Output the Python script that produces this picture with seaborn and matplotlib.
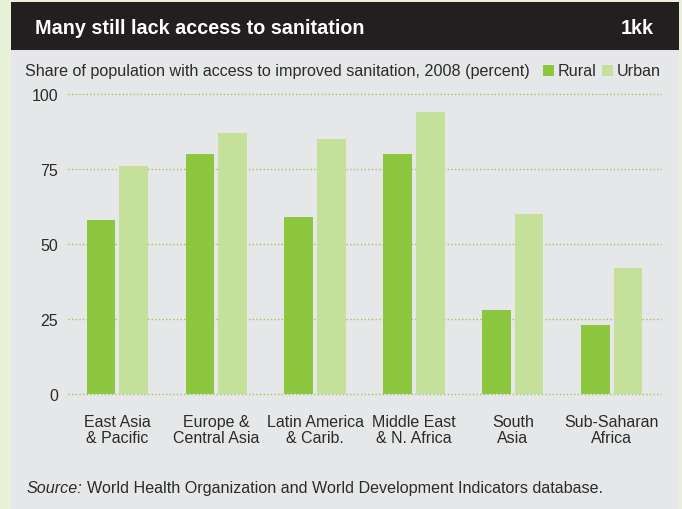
import matplotlib
matplotlib.use("Agg")
import matplotlib.pyplot as plt
from matplotlib.patches import Rectangle
import seaborn as sns
import pandas as pd

regions = ["East Asia\n& Pacific", "Europe &\nCentral Asia", "Latin America\n& Carib.",
           "Middle East\n& N. Africa", "South\nAsia", "Sub-Saharan\nAfrica"]
rural = [58, 80, 59, 80, 28, 23]
urban = [76, 87, 85, 94, 60, 42]
yticks = [0, 25, 50, 75, 100]

RURAL_C = "#8dc63f"
URBAN_C = "#c5e09b"
PANEL_C = "#e6e7e8"
OUTER_C = "#e8f2d9"
DARK_C = "#231f20"
TEXT_C = "#2b2b2b"

df = pd.DataFrame({
    "region": regions * 2,
    "value": rural + urban,
    "kind": ["Rural"] * len(regions) + ["Urban"] * len(regions),
})

sns.set_theme(style="white")
FONT = ["Liberation Sans Narrow", "Liberation Sans", "DejaVu Sans"]
plt.rcParams["font.family"] = FONT

W, H = 682, 510
fig = plt.figure(figsize=(W / 100, H / 100), dpi=100, facecolor=OUTER_C)

def fx(px):
    return px / W

def fy(py):
    return 1 - py / H

# panel and title bar
fig.patches.append(Rectangle((fx(11), 0), fx(668), fy(50.5), transform=fig.transFigure,
                             facecolor=PANEL_C, edgecolor="none", zorder=-2))
fig.patches.append(Rectangle((fx(11), fy(50.5)), fx(668), 47.5 / H, transform=fig.transFigure,
                             facecolor=DARK_C, edgecolor="none", zorder=-2))

ax = fig.add_axes([fx(68), fy(395), fx(593), 300 / H])
ax.set_facecolor("none")
ax.set_zorder(2)

sns.barplot(data=df, x="region", y="value", hue="kind", order=regions,
            hue_order=["Rural", "Urban"], palette={"Rural": RURAL_C, "Urban": URBAN_C},
            width=0.66, gap=0.12, saturation=1, legend=False, ax=ax, zorder=3,
            edgecolor="none", linewidth=0)

ax.set_xlim(-0.5, 5.5)
ax.set_ylim(0, 100)
ax.set_yticks(yticks)
ax.set_yticklabels([str(v) for v in yticks])
for y in yticks:
    ax.axhline(y, color="#9cc85a", lw=1.0, linestyle=(0, (1, 1.6)), zorder=1, clip_on=False)
for s in ax.spines.values():
    s.set_visible(False)
ax.set_xlabel("")
ax.set_ylabel("")
ax.tick_params(axis="y", length=0, pad=7, labelsize=11.5, labelcolor=TEXT_C)
ax.tick_params(axis="x", length=0, pad=14.5, labelsize=11.5, labelcolor=TEXT_C)
for lab in ax.get_xticklabels():
    lab.set_linespacing(1.05)
    lab.set_family(FONT)
for lab in ax.get_yticklabels():
    lab.set_family(FONT)

# title
fig.text(fx(35), fy(28), "Many still lack access to sanitation", color="white",
         fontsize=14.2, fontweight="bold", va="center", ha="left", family=FONT)
fig.text(fx(654), fy(28), "1kk", color="white", fontsize=14.2, fontweight="bold",
         va="center", ha="right", family=FONT)

# subtitle and legend
fig.text(fx(25), fy(72), "Share of population with access to improved sanitation, 2008 (percent)",
         color=TEXT_C, fontsize=11.65, va="center", ha="left", family=FONT)
fig.patches.append(Rectangle((fx(543), fy(77)), fx(10.5), 11 / H, transform=fig.transFigure,
                             facecolor=RURAL_C, edgecolor="none"))
fig.text(fx(558), fy(72), "Rural", color=TEXT_C, fontsize=11.65, va="center", ha="left", family=FONT)
fig.patches.append(Rectangle((fx(602), fy(77)), fx(10.5), 11 / H, transform=fig.transFigure,
                             facecolor=URBAN_C, edgecolor="none"))
fig.text(fx(617), fy(72), "Urban", color=TEXT_C, fontsize=11.65, va="center", ha="left", family=FONT)

# source
t1 = fig.text(fx(27), fy(489), "Source:", color=TEXT_C, fontsize=11.6, style="italic",
              va="center", ha="left", family=FONT)
fig.canvas.draw()
bb = t1.get_window_extent(renderer=fig.canvas.get_renderer())
fig.text(bb.x1 / W + fx(4), fy(489),
         "World Health Organization and World Development Indicators database.",
         color=TEXT_C, fontsize=11.6, va="center", ha="left", family=FONT)

fig.savefig("out.png", dpi=100, facecolor=OUTER_C)
